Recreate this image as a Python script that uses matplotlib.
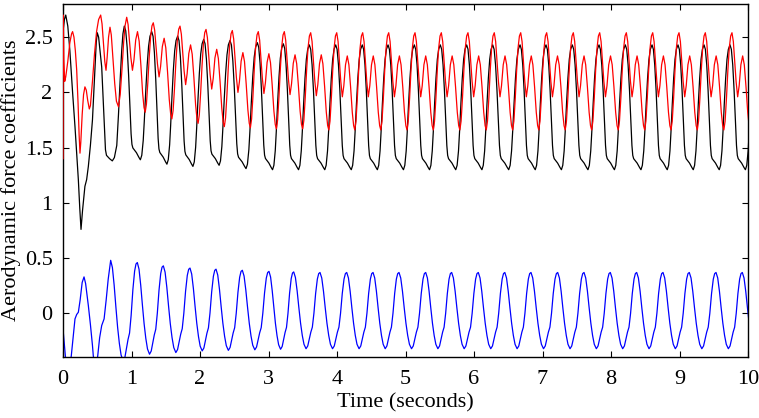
import matplotlib
matplotlib.use("Agg")
import matplotlib.pyplot as plt

# ---------------- data ----------------
# Start-up transient, read point by point
black_t0 = [0, 0.02, 0.04, 0.07, 0.10, 0.14, 0.175, 0.20, 0.224, 0.245,
            0.263, 0.285, 0.32, 0.345, 0.37, 0.40, 0.43, 0.45, 0.467, 0.485,
            0.50, 0.52, 0.54, 0.565, 0.585, 0.605, 0.62, 0.635, 0.68, 0.72,
            0.75, 0.785, 0.81, 0.835, 0.857, 0.875]
black_v0 = [2.55, 2.66, 2.70, 2.60, 2.38, 2.00, 1.69, 1.45, 1.21, 0.95,
            0.76, 0.93, 1.15, 1.21, 1.33, 1.52, 1.75, 2.00, 2.23, 2.45,
            2.54, 2.50, 2.38, 2.23, 1.95, 1.65, 1.48, 1.43, 1.40, 1.38,
            1.41, 1.52, 1.80, 2.12, 2.38, 2.53]

red_t0 = [0, 0.004, 0.012, 0.025, 0.04, 0.07, 0.10, 0.125, 0.14, 0.16, 0.18,
          0.20, 0.22, 0.235, 0.248, 0.26, 0.28, 0.30, 0.32, 0.34, 0.36,
          0.384, 0.40, 0.43, 0.46, 0.49, 0.52, 0.55, 0.57, 0.59, 0.61,
          0.628, 0.645, 0.665, 0.686, 0.705, 0.73, 0.755, 0.78, 0.81, 0.835,
          0.86, 0.885, 0.905]
red_v0 = [1.40, 2.70, 2.30, 2.10, 2.14, 2.28, 2.45, 2.53, 2.55, 2.50, 2.38,
          2.20, 1.90, 1.62, 1.45, 1.55, 1.80, 1.98, 2.05, 2.02, 1.93,
          1.85, 1.88, 2.10, 2.35, 2.55, 2.66, 2.70, 2.62, 2.45, 2.28,
          2.20, 2.32, 2.50, 2.59, 2.52, 2.30, 2.08, 1.92, 1.87, 1.98,
          2.20, 2.45, 2.60]

blue_t0 = [0, 0.015, 0.035, 0.06, 0.09, 0.12, 0.15, 0.175, 0.20, 0.224,
           0.25, 0.28, 0.307, 0.33, 0.37, 0.40, 0.43, 0.443, 0.475, 0.506,
           0.535, 0.565, 0.60, 0.63, 0.66]
blue_v0 = [-0.14, -0.25, -0.39, -0.48, -0.46, -0.39, -0.20, -0.05, -0.01, 0.01,
           0.12, 0.28, 0.33, 0.27, 0.07, -0.10, -0.29, -0.39, -0.47, -0.39,
           -0.22, -0.11, -0.05, 0.12, 0.31]

# Shape of one periodic cycle (time after the cycle's peak, value), read in steady state
cycle_period = 0.384
black_shape_dt = [0.000, 0.020, 0.040, 0.060, 0.080, 0.095, 0.107, 0.120, 0.170,
                  0.205, 0.225, 0.245, 0.265, 0.280, 0.300, 0.320, 0.340, 0.360]
black_shape_v = [2.43, 2.39, 2.25, 2.02, 1.73, 1.52, 1.43, 1.40, 1.36,
                 1.32, 1.30, 1.34, 1.47, 1.64, 1.90, 2.13, 2.30, 2.39]
black_key_idx = [0, 10]          # peak, trough

red_shape_dt = [0.000, 0.020, 0.040, 0.060, 0.083, 0.105, 0.130, 0.156, 0.180,
                0.205, 0.230, 0.250, 0.267, 0.285, 0.305, 0.325, 0.345, 0.365]
red_shape_v = [2.54, 2.46, 2.28, 2.10, 1.96, 2.06, 2.25, 2.33, 2.25,
               2.05, 1.82, 1.70, 1.66, 1.74, 1.95, 2.20, 2.40, 2.51]
red_key_idx = [0, 4, 7, 12]      # main peak, upper trough, second peak, lower trough

blue_shape_dt = [0.000, 0.025, 0.050, 0.075, 0.100, 0.125, 0.150, 0.180,
                 0.205, 0.230, 0.250, 0.272, 0.295, 0.320, 0.345, 0.365]
blue_shape_v = [0.37, 0.32, 0.20, 0.05, -0.09, -0.20, -0.28, -0.32,
                -0.295, -0.225, -0.17, -0.125, 0.00, 0.18, 0.31, 0.36]
blue_key_idx = [0, 7]            # peak, trough

# Per-cycle peak times and key values
black_peak_t = [0.895, 1.295, 1.674, 2.054, 2.438, 2.837, 3.216, 3.596, 3.981, 4.369,
                4.745, 5.129, 5.508, 5.893, 6.273, 6.672, 7.051, 7.435, 7.825, 8.209,
                8.599, 8.978, 9.358, 9.737]
black_peak_v = [2.60, 2.55, 2.51, 2.48, 2.47, 2.45, 2.44, 2.43, 2.43, 2.43,
                2.43, 2.43, 2.43, 2.43, 2.43, 2.43, 2.43, 2.43, 2.43, 2.43,
                2.43, 2.43, 2.43, 2.43]
black_trough_v = [1.39, 1.35, 1.33, 1.34, 1.31, 1.30, 1.30, 1.30, 1.30, 1.30,
                  1.30, 1.30, 1.30, 1.30, 1.30, 1.30, 1.30, 1.30, 1.30, 1.30,
                  1.30, 1.30, 1.30, 1.30]

red_peak_t = [0.930, 1.318, 1.708, 2.088, 2.472, 2.851, 3.231, 3.616, 3.996, 4.375,
              4.755, 5.139, 5.523, 5.912, 6.296, 6.682, 7.061, 7.450, 7.835, 8.224,
              8.609, 8.993, 9.377, 9.766]
red_main_peak_v = [2.68, 2.63, 2.60, 2.57, 2.56, 2.55, 2.55, 2.54, 2.54, 2.54,
                   2.54, 2.54, 2.54, 2.54, 2.54, 2.54, 2.54, 2.54, 2.54, 2.54,
                   2.54, 2.54, 2.54, 2.54]
red_upper_trough_v = [2.20, 2.14, 2.07, 2.03, 2.00, 1.99, 1.98, 1.97, 1.96, 1.96,
                      1.96, 1.96, 1.96, 1.96, 1.96, 1.96, 1.96, 1.96, 1.96, 1.96,
                      1.96, 1.96, 1.96, 1.96]
red_second_peak_v = [2.55, 2.49, 2.43, 2.39, 2.36, 2.35, 2.34, 2.34, 2.33, 2.33,
                     2.33, 2.33, 2.33, 2.33, 2.33, 2.33, 2.33, 2.33, 2.33, 2.33,
                     2.33, 2.33, 2.33, 2.33]
red_lower_trough_v = [1.82, 1.76, 1.72, 1.69, 1.68, 1.67, 1.67, 1.66, 1.66, 1.66,
                      1.66, 1.66, 1.66, 1.66, 1.66, 1.66, 1.66, 1.66, 1.66, 1.66,
                      1.66, 1.66, 1.66, 1.66]

blue_peak_t = [0.696, 1.085, 1.465, 1.854, 2.234, 2.618, 3.007, 3.368, 3.752, 4.142,
               4.526, 4.905, 5.295, 5.674, 6.063, 6.450, 6.832, 7.222, 7.606, 7.990,
               8.375, 8.759, 9.143, 9.533, 9.917]
blue_peak_v = [0.48, 0.46, 0.43, 0.41, 0.40, 0.39, 0.38, 0.375, 0.37, 0.37,
               0.37, 0.37, 0.37, 0.37, 0.37, 0.37, 0.37, 0.37, 0.37, 0.37,
               0.37, 0.37, 0.37, 0.37, 0.37]
blue_trough_v = [-0.43, -0.37, -0.355, -0.34, -0.335, -0.33, -0.325, -0.32, -0.32, -0.32,
                 -0.32, -0.32, -0.32, -0.32, -0.32, -0.32, -0.32, -0.32, -0.32, -0.32,
                 -0.32, -0.32, -0.32, -0.32, -0.32]

x_ticks = [0, 1, 2, 3, 4, 5, 6, 7, 8, 9, 10]
y_ticks = [0, 0.5, 1, 1.5, 2, 2.5]
y_tick_labels = ["0", "0.5", "1", "1.5", "2", "2.5"]


def build(t0, v0, peak_t, key_rows, shape_dt, shape_v, key_idx):
    """Place the read cycle shape at every read peak, fitted to that cycle's read key values."""
    ts, vs = list(t0), list(v0)
    n = len(peak_t)
    bounds = key_idx + [len(shape_dt)]
    tmpl_keys = [shape_v[i] for i in key_idx] + [shape_v[0]]
    for k in range(n):
        T = peak_t[k + 1] - peak_t[k] if k + 1 < n else cycle_period
        new_keys = [row[k] for row in key_rows]
        new_keys.append(key_rows[0][k + 1] if k + 1 < n else key_rows[0][k])
        for s in range(len(key_idx)):
            for i in range(bounds[s], bounds[s + 1]):
                f = (shape_v[i] - tmpl_keys[s]) / (tmpl_keys[s + 1] - tmpl_keys[s])
                vs.append(new_keys[s] + f * (new_keys[s + 1] - new_keys[s]))
                ts.append(peak_t[k] + shape_dt[i] * T / cycle_period)
    return ts, vs


black_t, black_v = build(black_t0, black_v0, black_peak_t, [black_peak_v, black_trough_v],
                         black_shape_dt, black_shape_v, black_key_idx)
red_t, red_v = build(red_t0, red_v0, red_peak_t,
                     [red_main_peak_v, red_upper_trough_v, red_second_peak_v, red_lower_trough_v],
                     red_shape_dt, red_shape_v, red_key_idx)
blue_t, blue_v = build(blue_t0, blue_v0, blue_peak_t, [blue_peak_v, blue_trough_v],
                       blue_shape_dt, blue_shape_v, blue_key_idx)

# ---------------- figure ----------------
plt.rcParams['font.family'] = ['Liberation Serif', 'DejaVu Serif']

fig = plt.figure(figsize=(7.59, 4.18), dpi=100)
ax = fig.add_axes([63 / 759, 61 / 418, 685 / 759, 353 / 418])

ax.plot(black_t, black_v, color='black', lw=0.9, zorder=2)
ax.plot(red_t, red_v, color='#ff0000', lw=0.9, zorder=3)
ax.plot(blue_t, blue_v, color='#0000ff', lw=0.9, zorder=2)

ax.set_xlim(0, 10)
ax.set_ylim(-0.395, 2.80)
ax.set_xticks(x_ticks)
ax.set_yticks(y_ticks)
ax.set_yticklabels(y_tick_labels)
ax.tick_params(direction='in', top=True, right=True, length=4.5, width=0.8,
               labelsize=16)
ax.tick_params(axis='x', pad=9)
ax.tick_params(axis='y', pad=7.5)
for sp in ax.spines.values():
    sp.set_linewidth(1.0)

ax.set_xlabel('Time (seconds)', fontsize=16, labelpad=3.5)
ax.set_ylabel('Aerodynamic force coefficients', fontsize=16, labelpad=3)

fig.savefig('out.png', dpi=100)
